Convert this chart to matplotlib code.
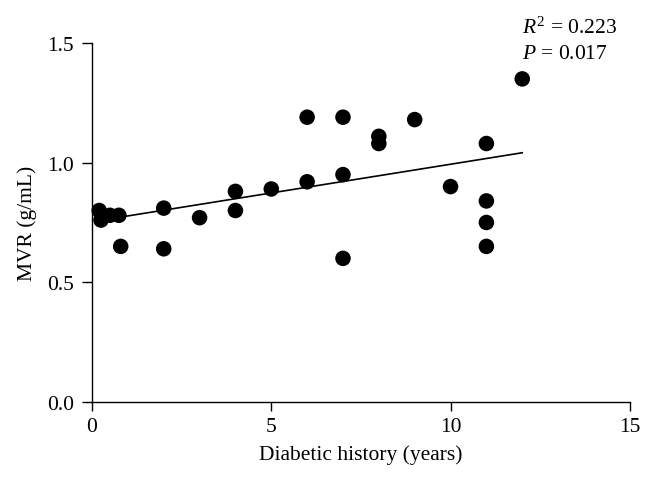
import matplotlib
matplotlib.use("Agg")
import matplotlib.pyplot as plt
import numpy as np

years = [0.2, 0.25, 0.5, 0.75, 0.8, 2, 2, 3, 4, 4, 5, 6, 6, 7, 7, 7, 8, 8, 9, 10, 11, 11, 11, 11, 12]
mvr = [0.80, 0.76, 0.78, 0.78, 0.65, 0.81, 0.64, 0.77, 0.88, 0.80, 0.89, 1.19, 0.92, 1.19, 0.95, 0.60,
       1.11, 1.08, 1.18, 0.90, 1.08, 0.84, 0.75, 0.65, 1.35]
x_ticks = [0, 5, 10, 15]
y_ticks = [0.0, 0.5, 1.0, 1.5]

plt.rcParams['font.family'] = ['Liberation Serif', 'DejaVu Serif']
plt.rcParams['mathtext.fontset'] = 'custom'
plt.rcParams['mathtext.it'] = 'Liberation Serif:italic'
plt.rcParams['mathtext.rm'] = 'Liberation Serif'

FS = 15.5
fig = plt.figure(figsize=(6.54, 4.89), dpi=100)
ax = fig.add_axes([0.1407, 0.176, 0.8223, 0.734])

xs = np.array(years)
ys = np.array(mvr)
slope, intercept = np.polyfit(xs, ys, 1)
xl = np.array([xs.min(), xs.max()])
ax.plot(xl, slope * xl + intercept, color='black', lw=1.2, zorder=2)
ax.scatter(xs, ys, s=125, color='black', zorder=3, clip_on=False, edgecolors='none')

ax.set_xlim(0, 15)
ax.set_ylim(0, 1.5)
ax.set_xticks(x_ticks)
ax.set_yticks(y_ticks)
ax.set_yticklabels([f"{v:.1f}" for v in y_ticks])
for s in ['top', 'right']:
    ax.spines[s].set_visible(False)
for s in ['left', 'bottom']:
    ax.spines[s].set_linewidth(1.0)
ax.tick_params(axis='x', direction='out', length=6.5, width=1.0, labelsize=FS, pad=4.5)
ax.tick_params(axis='y', direction='out', length=7, width=1.0, labelsize=FS, pad=6)
ax.set_xlabel("Diabetic history (years)", fontsize=FS, labelpad=6)
ax.set_ylabel("MVR (g/mL)", fontsize=FS, labelpad=7)

ax.text(12.0, 1.565, r"$R^2$ = 0.223", fontsize=FS, va='center', ha='left', clip_on=False)
ax.text(12.0, 1.455, r"$P$ = 0.017", fontsize=FS, va='center', ha='left', clip_on=False)

fig.savefig("out.png", dpi=100)
